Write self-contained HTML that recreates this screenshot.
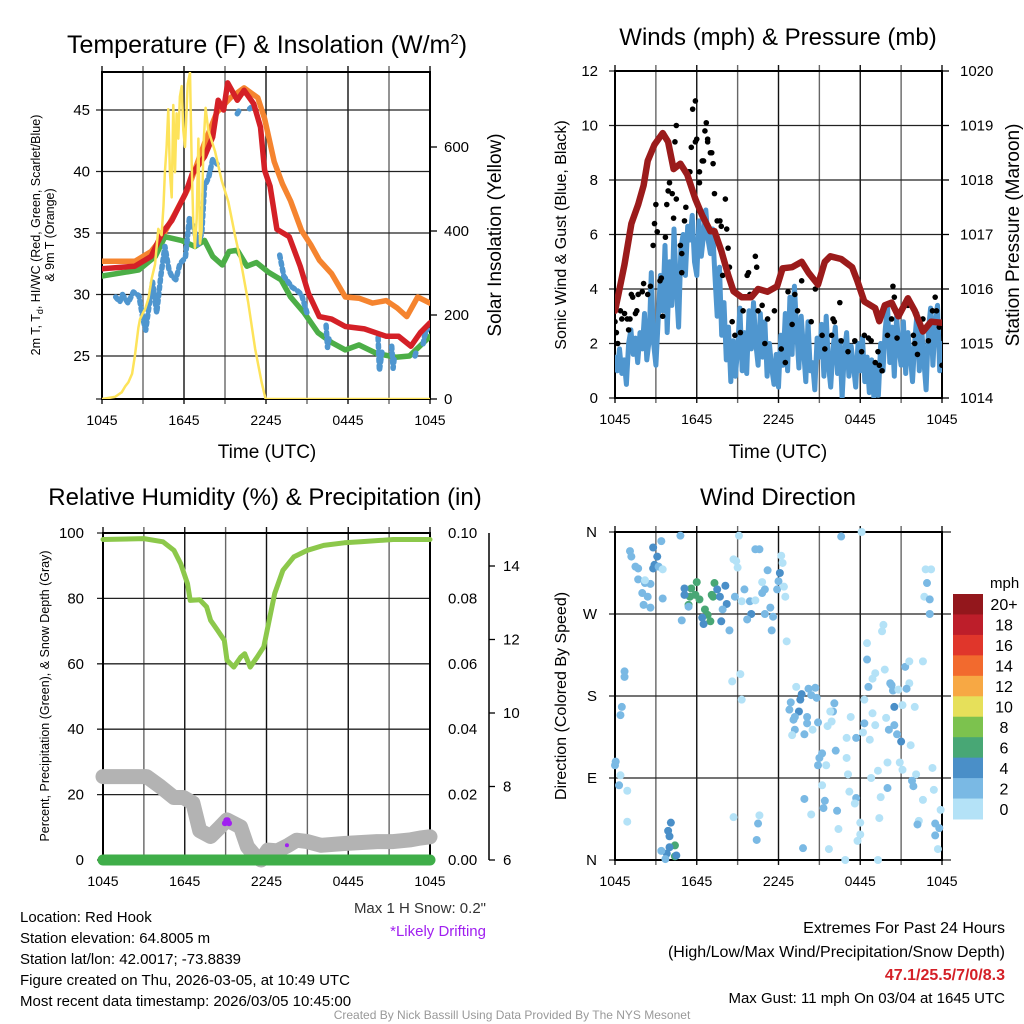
<!DOCTYPE html>
<html><head><meta charset="utf-8">
<style>
html,body{margin:0;padding:0;background:#fff;}
svg{display:block;font-family:"Liberation Sans",Arial,sans-serif;}
</style></head>
<body>
<svg id="c" width="1024" height="1024" viewBox="0 0 1024 1024">
<rect width="1024" height="1024" fill="#fff"/>
<text x="267" y="53" font-size="25" text-anchor="middle">Temperature (F) &amp; Insolation (W/m<tspan font-size="15" dy="-9">2</tspan><tspan dy="9">)</tspan></text>
<text x="778" y="45" font-size="24" text-anchor="middle">Winds (mph) &amp; Pressure (mb)</text>
<text x="265" y="505" font-size="24" text-anchor="middle">Relative Humidity (%) &amp; Precipitation (in)</text>
<text x="778" y="505" font-size="24" text-anchor="middle">Wind Direction</text>
<text x="267" y="458" font-size="19" text-anchor="middle">Time (UTC)</text>
<text x="778" y="458" font-size="19" text-anchor="middle">Time (UTC)</text>
<text transform="translate(40,235) rotate(-90)" font-size="12.5" text-anchor="middle">2m T, T<tspan font-size="9" dy="3">d</tspan><tspan dy="-3">, HI/WC (Red, Green, Scarlet/Blue)</tspan></text>
<text transform="translate(54,235) rotate(-90)" font-size="12.5" text-anchor="middle">&amp; 9m T (Orange)</text>
<text transform="translate(501,235) rotate(-90)" font-size="19" text-anchor="middle">Solar Insolation (Yellow)</text>
<text transform="translate(566,235) rotate(-90)" font-size="16" text-anchor="middle">Sonic Wind &amp; Gust (Blue, Black)</text>
<text transform="translate(1019,235) rotate(-90)" font-size="19" text-anchor="middle">Station Pressure (Maroon)</text>
<text transform="translate(49,696) rotate(-90)" font-size="12.5" text-anchor="middle">Percent, Precipitation (Green), &amp; Snow Depth (Gray)</text>
<text transform="translate(566,696) rotate(-90)" font-size="16" text-anchor="middle">Direction (Colored By Speed)</text>
<g font-size="15">
<text x="20" y="922">Location: Red Hook</text>
<text x="20" y="943">Station elevation: 64.8005 m</text>
<text x="20" y="964">Station lat/lon: 42.0017; -73.8839</text>
<text x="20" y="985">Figure created on Thu, 2026-03-05, at 10:49 UTC</text>
<text x="20" y="1006">Most recent data timestamp: 2026/03/05 10:45:00</text>
</g>
<text x="486" y="913" font-size="15" text-anchor="end" fill="#333">Max 1 H Snow: 0.2"</text>
<text x="486" y="936" font-size="15" text-anchor="end" fill="#a020f0">*Likely Drifting</text>
<g font-size="16" text-anchor="end">
<text x="1005" y="933">Extremes For Past 24 Hours</text>
<text x="1005" y="957">(High/Low/Max Wind/Precipitation/Snow Depth)</text>
<text x="1005" y="980" fill="#d42027" font-weight="bold">47.1/25.5/7/0/8.3</text>
<text x="1005" y="1003" font-size="15">Max Gust: 11 mph On 03/04 at 1645 UTC</text>
</g>
<text x="512" y="1019" font-size="12" fill="#999" text-anchor="middle">Created By Nick Bassill Using Data Provided By The NYS Mesonet</text>
</svg>
<script>
const timeTicks=["1045","1645","2245","0445","1045"];
const tempTicks=[25,30,35,40,45];
const solarTicks=[0,200,400,600];
const t9mHours=[0,2.4,3.6,4.3,5.3,6.3,7.5,8.4,9.4,10.4,11.4,11.9,12.6,13.2,13.8,14.6,15.3,15.9,16.8,17.8,18.8,19.8,20.8,21.6,22.3,23.1,24];
const t9mVals=[32.7,32.7,33.5,34.5,36.5,38.6,42.3,44.8,46.0,46.8,46.0,44.3,40.8,39.0,37.6,35.2,34.0,32.8,31.7,29.8,29.7,29.3,29.5,28.9,28.2,29.8,29.3];
const t2mHours=[0,2.4,3.6,4.4,5.1,6.1,6.6,7.5,8.1,8.5,8.9,9.2,9.9,10.4,11.1,11.6,11.9,12.3,12.8,13.7,14.5,15.1,15.9,16.8,17.8,19.2,20.8,21.7,22.6,23.3,24];
const t2mVals=[32.1,32.3,33.1,35.0,36.0,38.2,39.8,41.2,42.8,45.8,45.0,47.2,45.8,46.6,45.5,43.6,40.1,38.8,35.3,34.7,32.3,30.1,28.2,28.0,27.4,27.2,26.6,26.6,25.8,26.9,27.7];
const tdHours=[0,2.7,3.9,4.6,5.8,6.8,7.5,8.1,8.8,9.3,9.9,10.6,11.3,12.2,13.1,13.8,14.8,15.8,16.8,17.8,18.8,20.1,21.5,22.5,24];
const tdVals=[31.5,32.0,33.1,34.7,34.4,33.9,34.4,33.1,32.4,33.5,33.6,32.3,32.6,31.8,31.2,29.8,28.5,26.9,26.1,25.5,25.9,25.2,24.9,25.0,26.6];
const hiHours=[1.0,1.3,1.5,1.9,2.3,2.7,3.0,3.2,3.5,3.7,4.0,4.3,4.6,4.9,5.1,5.4,5.7,6.1,6.4,6.7,7.0,7.3,7.5,7.8,8.1,8.5,null,9.9,10.0,null,10.8,10.9,null,13.0,13.3,13.9,14.3,14.6,15.0,null,16.4,16.5,16.6,null,20.2,20.3,20.5,null,21.2,21.3,21.4,null,22.9,23.0,null,23.5,23.6,23.8];
const hiVals=[29.8,29.4,30.0,29.3,30.2,29.9,28.0,27.1,29.5,31.0,28.5,31.5,33.9,32.0,31.5,31.2,32.5,33.0,36.3,35.5,34.0,35.0,38.8,39.5,41.0,40.5,null,44.7,44.9,null,45.1,45.2,null,33.2,31.5,30.6,30.3,30.0,28.5,null,27.5,25.7,26.4,null,26.5,23.8,25.5,null,25.8,24.0,25.0,null,25.0,25.4,null,26.0,26.6,27.2];
const solarHours=[0,0.95,1.44,1.7,1.93,2.2,2.41,2.66,2.78,3.0,3.15,3.4,3.63,3.88,4.12,4.36,4.5,4.6,4.73,4.85,4.97,5.1,5.22,5.34,5.46,5.58,5.7,5.83,5.95,6.07,6.27,6.44,6.56,6.68,6.8,6.93,7.05,7.17,7.29,7.42,7.58,7.78,8.27,8.76,9.24,9.73,10.2,10.7,11.2,11.68,11.97,24];
const solarVals=[0,5,16,30,40,60,103,170,190,205,214,240,286,320,405,390,460,540,600,690,540,480,700,540,680,620,720,745,640,600,750,777,560,420,360,430,620,370,400,600,693,640,590,520,470,390,320,230,120,40,0,0];
const windTicks=[0,2,4,6,8,10,12];
const presTicks=[1014,1015,1016,1017,1018,1019,1020];
const presHours=[0,0.25,0.7,1.2,1.7,2.1,2.4,2.9,3.5,3.9,4.3,4.8,5.3,5.9,6.4,7.0,7.3,7.8,8.3,8.7,9.3,10.0,10.5,11.2,11.9,12.3,13.0,13.7,14.2,14.9,15.4,15.8,16.6,17.4,17.8,18.3,19.1,19.4,19.8,20.3,20.8,21.5,22.0,22.6,23.2,24];
const presVals=[1015.6,1015.9,1016.45,1017.2,1017.55,1017.9,1018.35,1018.65,1018.86,1018.7,1018.2,1018.3,1018.1,1017.65,1017.35,1017.06,1017.06,1016.7,1016.26,1015.96,1015.85,1015.85,1016.0,1015.95,1016.05,1016.38,1016.4,1016.5,1016.3,1016.08,1016.5,1016.6,1016.55,1016.4,1016.14,1015.77,1015.65,1015.41,1015.7,1015.75,1015.5,1015.83,1015.6,1015.22,1015.4,1015.38];
const windVals=[1.5,1.0,1.8,0.9,1.4,0.5, 2.0,2.5,1.6,2.2,1.3,2.4, 1.8,3.1,1.4,2.1,4.6,2.0, 1.2,2.8,4.5,3.2,5.6,2.4, 5.0,3.4,6.2,4.1,2.6,5.5, 6.0,4.5,6.3,5.8,6.7,5.0, 4.5,6.5,5.2,6.0,6.9,5.8, 5.3,6.2,4.5,3.0,4.8,2.3, 3.5,1.4,2.6,0.6,2.1,0.8, 1.8,3.3,1.0,2.4,0.9,3.2, 1.8,3.5,2.0,1.2,3.1,1.5, 2.8,0.8,2.0,1.1,0.5,1.6, 0.4,2.3,1.2,3.1,1.0,3.7, 1.6,4.1,2.5,1.1,3.0,1.8, 0.6,2.8,1.0,1.3,0.3,2.2, 1.5,2.7,0.8,3.0,1.2,0.4, 1.8,2.6,0.9,2.1,0.0,1.7, 2.4,0.8,1.9,1.2,0.4,2.0, 1.0,2.2,0.6,1.5,0.2,1.4, 0.0,1.2,0.1,2.0,1.0,2.5, 3.4,1.3,2.6,0.8,3.0,1.8, 1.2,2.8,0.9,2.4,1.6,0.6, 2.1,3.1,1.0,2.6,1.4,0.3, 2.5,3.3,1.2,2.8,3.4,1.0,2.0];
const gustHours=[0,0.1,0.2,0.4,0.5,0.7,0.9,1.0,1.1,1.2,1.3,1.5,1.6,1.7,2.0,2.1,2.4,2.6,2.8,2.9,3.0,3.1,3.3,3.4,3.5,3.7,3.8,3.9,4.0,4.2,4.3,4.4,4.5,4.5,4.8,4.9,4.9,5.1,5.2,5.4,5.5,5.6,5.7,5.9,5.9,6.0,6.2,6.2,6.4,6.5,6.6,6.7,6.8,6.8,7.0,7.1,7.2,7.3,7.5,7.7,7.8,7.9,8.1,8.2,8.3,8.4,8.6,8.8,9.2,9.4,9.7,9.8,9.9,10.0,10.3,10.4,10.5,10.8,11.0,11.2,11.7,12.2,12.5,12.7,13.0,13.2,13.4,13.7,14.4,14.7,15.2,15.4,15.9,16.0,16.1,16.5,16.6,17.1,17.6,18.1,18.3,18.6,18.8,19.1,19.3,19.4,19.6,20.0,20.3,20.4,20.5,20.7,21.3,21.5,21.9,22.0,22.2,22.6,23.0,23.3,23.5,23.6,23.8,24.0];
const gustVals=[2.8,2.4,2.0,3.2,2.9,3.1,2.9,2.5,2.9,3.8,3.7,3.1,3.2,3.8,3.9,4.2,3.8,4.1,5.6,6.4,7.1,6.1,4.3,4.4,3.0,5.9,7.1,7.6,7.9,7.5,6.6,9.4,10.0,7.3,5.6,5.3,4.6,6.5,7.0,8.3,8.3,9.2,10.6,9.4,10.9,9.5,7.9,8.3,8.7,8.7,9.8,10.1,9.5,9.4,9.0,9.0,8.6,7.5,6.5,6.5,6.3,4.5,7.3,6.2,5.5,4.8,2.8,2.3,2.4,3.2,4.5,4.6,3.8,3.7,5.2,4.8,3.2,3.4,2.0,2.9,3.2,1.8,1.3,3.9,2.7,3.8,3.2,4.3,2.8,4.0,2.3,1.8,2.3,2.9,2.8,3.5,2.1,1.7,2.1,1.7,2.3,2.2,2.1,1.3,1.7,1.2,1.0,2.3,2.9,4.1,3.7,2.2,3.4,3.4,2.3,2.0,1.6,2.9,2.1,3.2,3.7,3.2,2.6,1.2];
const rhTicks=[0,20,40,60,80,100];
const precipTicks=["0.00","0.02","0.04","0.06","0.08","0.10"];
const snowTicks=[6,8,10,12,14];
const rhHours=[0,3.0,4.4,5.2,5.7,6.2,6.4,7.1,7.6,7.9,8.4,8.9,9.1,9.6,10.1,10.4,10.8,11.3,11.8,12.3,12.6,13.2,14.0,15.0,16.2,17.7,18.9,21.3,24];
const rhVals=[98,98.3,97.3,94.7,90.6,84.5,79.4,79.6,77.4,73.3,70.3,67.2,61.1,59,62,63.1,59,62,65.2,75.4,81.5,88.6,92.7,94.7,96.2,97,97.3,98,98];
const snowHours=[0,3.2,4.2,5.2,5.9,6.6,7.1,7.9,8.6,9.1,10.1,10.6,11.1,11.6,12.1,12.8,13.6,14.2,15.0,16.0,17.7,20.1,21.3,22.6,23.3,24];
const snowVals=[8.27,8.27,8.0,7.7,7.7,7.55,6.8,6.64,6.9,7.09,6.9,6.36,6.14,6.0,6.27,6.25,6.4,6.54,6.5,6.4,6.45,6.5,6.5,6.55,6.6,6.63];
const driftHours=[8.95,9.05,9.15,9.25,13.5];
const driftVals=[7.0,7.08,7.08,7.0,6.4];
const precipHours=[0,24];
const precipVals=[0,0];
const dirLabels=["N","E","S","W","N"];
const speedBins=["0","2","4","6","8","10","12","14","16","18","20+"];
const dirHours=[1.1,1.2,1.5,1.7,1.7,2.2,2.6,2.0,2.4,2.1,2.6,2.8,3.1,2.9,2.8,3.2,3.5,3.4,4.8,3.5,2.2,
6.0,5.6,5.5,5.9,5.4,6.2,6.6,6.8,7.0,7.2,7.3,7.1,5.1,5.1,5.4,4.9,6.5,6.4,7.5,7.7,8.1,7.8,8.2,8.4,7.9,8.8,8.9,9.0,9.1,9.5,9.9,10.0,9.7,10.3,10.6,10.8,11.0,11.2,11.4,11.0,11.6,11.5,11.9,12.0,12.1,12.2,12.3,12.4,12.5,12.6,10.8,10.3,8.7,9.3,
16.6,18.1,22.8,23.2,22.9,22.7,23.1,23.1,
19.7,19.6,18.5,18.5,19.1,18.9,19.8,20.2,20.3,18.6,20.4,21.3,21.6,22.6,21.6,21.4,20.8,
0.7,0.7,8.6,9.2,0.5,0.4,9.3,
13.3,14.2,14.7,14.4,14.8,13.7,13.6,12.9,12.8,13.5,13.2,13.1,14.1,14.1,14.9,13.2,13.0,13.9,14.5,16.1,16.0,15.8,15.9,15.6,17.3,18.3,18.9,18.3,19.1,19.9,20.5,21.1,22.0,20.1,20.5,20.7,21.0,21.7,18.7,17.7,17.0,18.2,15.2,15.0,14.9,15.5,16.2,17.0,20.0,20.9,21.1,19.3,18.8,17.1,22.1,23.3,21.8,21.9,20.0,15.2,17.2,17.7,17.6,15.4,15.3,16.3,13.9,19.5,23.4,22.6,19.4,18.0,18.0,17.8,16.4,14.4,15.7,13.8,16.9,19.3,22.3,22.2,23.5,23.8,23.5,23.7,23.9,
0.05,0.0,0.4,0.3,0.9,0.9,8.7,10.6,10.5,10.4,
4.1,3.9,4.0,4.4,4.4,4.0,3.8,3.4,3.7,4.5];
const dirDegrees=[339,333,322,320,308,304,303,293,289,280,277,343,333,324,320,322,319,350,356,287,307,
305,298,289,291,280,286,275,269,262,289,304,291,298,291,278,263,259,266,297,289,301,262,281,252,275,289,328,321,356,297,284,270,264,341,341,293,297,318,277,270,267,252,297,306,315,334,326,300,289,240,305,285,330,284,
355,360,319,319,304,289,286,270,
258,251,238,220,205,199,209,194,192,190,186,212,218,218,194,188,187,
207,201,196,204,168,159,176,
190,188,189,181,178,182,176,173,165,163,157,154,157,150,151,143,137,138,143,172,163,163,152,147,157,176,161,150,148,156,168,170,168,143,148,138,130,126,132,134,134,140,117,112,104,104,120,112,107,107,99,98,90,94,94,101,87,81,79,82,75,68,62,65,57,54,67,69,77,66,46,41,28,21,34,50,12,13,0,0,43,39,40,35,27,12,55,
108,104,93,82,76,42,47,49,40,22,
41,32,26,16,4,14,7,10,1,5];
const dirSpeeds=[3,3,3,3,3,3,3,3,3,3,3,5,5,5,5,3,1,3,3,3,1,
7,7,7,7,7,7,7,7,7,7,7,7,5,5,3,3,5,5,5,5,5,5,5,3,3,3,1,1,1,3,3,5,3,3,3,3,3,3,3,3,3,3,3,3,5,1,1,1,1,1,1,1,1,1,
3,1,1,1,3,1,3,3,
1,1,1,3,1,1,1,3,3,3,3,3,1,1,1,3,1,
3,3,1,1,3,3,1,
1,3,3,3,3,5,5,3,3,5,3,3,3,3,3,3,1,3,1,3,3,1,1,1,1,1,1,3,1,1,5,1,1,3,3,3,5,1,1,3,1,1,3,3,3,1,3,1,1,1,1,1,1,1,1,1,3,3,3,1,1,3,1,3,3,3,3,1,1,1,1,1,1,1,1,1,1,3,1,1,1,3,3,3,3,1,1,
3,3,1,3,1,1,1,1,3,3,
5,5,5,7,7,5,5,3,3,5];

const NS='http://www.w3.org/2000/svg';
const svg=document.getElementById('c');
function mk(tag,attrs,parent){const e=document.createElementNS(NS,tag);for(const k in attrs)e.setAttribute(k,attrs[k]);(parent||svg).appendChild(e);return e;}
function txt(x,y,s,size,anchor,parent){const e=mk('text',{x:x,y:y,'font-size':size,'text-anchor':anchor},parent);e.textContent=s;return e;}
function pathFrom(xs,ys,fx,fy){let d='',pen=false;for(let i=0;i<xs.length;i++){if(xs[i]===null||ys[i]===null){pen=false;continue;}d+=(pen?'L':'M')+fx(xs[i]).toFixed(1)+' '+fy(ys[i]).toFixed(1);pen=true;}return d;}

const P1={l:102,r:430,t:72,b:399}, P2={l:615,r:942,t:71,b:398}, P3={l:103,r:430,t:533,b:860}, P4={l:615,r:942,t:532,b:860};
const x1=h=>P1.l+h*(P1.r-P1.l)/24, yT=v=>110+(45-v)*12.3, yS=w=>399-w*0.42;
const x2=h=>P2.l+h*(P2.r-P2.l)/24, yW=v=>P2.b-v*27.25, yP=p=>P2.b-(p-1014)*54.5;
const x3=h=>P3.l+h*(P3.r-P3.l)/24, yR=v=>P3.b-v*3.27, ySn=d=>P3.b-(d-6)*36.75;
const x4=h=>P4.l+h*(P4.r-P4.l)/24, yD=d=>P4.b-d*(P4.b-P4.t)/360;

function clip(id,P){const cp=mk('clipPath',{id:id});mk('rect',{x:P.l,y:P.t,width:P.r-P.l,height:P.b-P.t},cp);}
clip('c1',P1);clip('c2',P2);clip('c3',{l:P3.l-10,r:P3.r+10,t:P3.t,b:P3.b+10});clip('c4',{l:P4.l-6,r:P4.r+6,t:P4.t-6,b:P4.b+6});

function grid(P,xf,ys,name,extra){
  const g=mk('g',{});
  
  
  for(let h=0;h<=24;h+=3){const x=xf(h);mk('line',{x1:x,y1:P.t-6,x2:x,y2:P.b+5,stroke:(h%6===0?'#111':'#666'),'stroke-width':1.4},g);}
  ys.forEach(y=>mk('line',{x1:P.l-6,y1:y,x2:P.r+(extra||0),y2:y,stroke:'#222','stroke-width':1.3},g));
  mk('rect',{x:P.l,y:P.t,width:P.r-P.l,height:P.b-P.t,fill:'none',stroke:'#000','stroke-width':2},g);
  timeTicks.forEach((s,i)=>{txt(xf(i*6),P.b+26,s,14,'middle',g);});
}

grid(P1,x1,tempTicks.map(yT).concat([P1.b]),'temperature-grid');
const ax1=mk('g',{});


tempTicks.forEach(v=>txt(P1.l-12,yT(v)+5,String(v),15,'end',ax1));
solarTicks.forEach(v=>{txt(P1.r+14,yS(v)+5,String(v),15,'start',ax1);mk('line',{x1:P1.r,y1:yS(v),x2:P1.r+7,y2:yS(v),stroke:'#000','stroke-width':1.3},ax1);});
const s1=mk('g',{'clip-path':'url(#c1)',fill:'none','stroke-linejoin':'round','stroke-linecap':'round'});


const o=mk('path',{d:pathFrom(t9mHours,t9mVals,x1,yT),stroke:'#f5842f','stroke-width':5.5},s1);


const gr=mk('path',{d:pathFrom(tdHours,tdVals,x1,yT),stroke:'#4cae47','stroke-width':5.5},s1);


const bl=mk('path',{d:pathFrom(hiHours,hiVals,x1,yT),stroke:'#4f96cf','stroke-width':5.5,'stroke-dasharray':'3 4'},s1);


const rd=mk('path',{d:pathFrom(t2mHours,t2mVals,x1,yT),stroke:'#d42027','stroke-width':5.5},s1);


const yl=mk('path',{d:pathFrom(solarHours,solarVals,x1,yS),stroke:'#fde35a','stroke-width':2.5},s1);



grid(P2,x2,windTicks.map(yW),'winds-grid');
const ax2=mk('g',{});


windTicks.forEach(v=>txt(P2.l-17,yW(v)+5,String(v),15,'end',ax2));
presTicks.forEach(v=>{txt(P2.r+18,yP(v)+5,String(v),15,'start',ax2);mk('line',{x1:P2.r,y1:yP(v),x2:P2.r+7,y2:yP(v),stroke:'#000','stroke-width':1.3},ax2);});
const s2=mk('g',{'clip-path':'url(#c2)','stroke-linejoin':'round','stroke-linecap':'round'});


const windHours=windVals.map((v,i)=>i/6);
const wl=mk('path',{d:pathFrom(windHours,windVals,x2,yW),stroke:'#4f96cf','stroke-width':5,fill:'none'},s2);


gustHours.forEach((h,i)=>{
  const c=mk('circle',{cx:x2(h),cy:yW(gustVals[i]),r:2.8,fill:'#000'},s2);
  
  
});
const pl=mk('path',{d:pathFrom(presHours,presVals,x2,yP),stroke:'#9b1b1b','stroke-width':6.5,fill:'none'},s2);



grid(P3,x3,rhTicks.map(yR),'humidity-grid');
const ax3=mk('g',{});


rhTicks.forEach(v=>txt(P3.l-19,yR(v)+5,String(v),15,'end',ax3));
precipTicks.forEach((s,i)=>txt(P3.r+18,yR(i*20)+5,s,15,'start',ax3));
mk('line',{x1:489,y1:P3.t,x2:489,y2:P3.b,stroke:'#000','stroke-width':1.5},ax3);
snowTicks.forEach(v=>{mk('line',{x1:489,y1:ySn(v),x2:495,y2:ySn(v),stroke:'#000','stroke-width':1.3},ax3);txt(503,ySn(v)+5,String(v),15,'start',ax3);});
const s3=mk('g',{'clip-path':'url(#c3)',fill:'none','stroke-linejoin':'round','stroke-linecap':'round'});


const sn=mk('path',{d:pathFrom(snowHours,snowVals,x3,ySn),stroke:'#b3b3b3','stroke-width':15},s3);


driftHours.forEach((h,i)=>{
  const c=mk('circle',{cx:x3(h),cy:ySn(driftVals[i]),r:(i<4?3:2),fill:'#a020f0'},s3);
  
  
});
const pr=mk('path',{d:pathFrom(precipHours,precipVals,x3,v=>yR(v*1000)),stroke:'#3fae49','stroke-width':11},s3);


const rh=mk('path',{d:pathFrom(rhHours,rhVals,x3,yR),stroke:'#8cc84b','stroke-width':5},s3);



grid(P4,x4,[0,90,180,270,360].map(yD),'direction-grid',9);
const ax4=mk('g',{});


dirLabels.forEach((s,i)=>txt(P4.l-18,yD(i*90)+5,s,15,'end',ax4));
const binColors=['#b4e2f7','#7ab9e4','#4a8fc8','#48a775','#7cc24e','#e6e05a','#f7a844','#f26a2e','#e0362b','#bd1e2a','#93171c'];
const s4=mk('g',{'clip-path':'url(#c4)'});


dirHours.forEach((h,i)=>{
  const bin=Math.min(10,Math.floor(dirSpeeds[i]/2));
  const c=mk('circle',{cx:x4(h),cy:yD(dirDegrees[i]),r:4,fill:binColors[bin]},s4);
  
  
});
const cb=mk('g',{});


txt(990,588,'mph',15,'start',cb);
const bandH=(819-594)/11;
speedBins.forEach((s,i)=>{
  const k=10-i;
  const y=594+i*bandH;
  mk('rect',{x:953,y:y,width:30,height:bandH+0.5,fill:binColors[10-i]},cb);
  txt(1004,y+bandH/2+6,speedBins[k],16,'middle',cb);
});
</script>
</body></html>
